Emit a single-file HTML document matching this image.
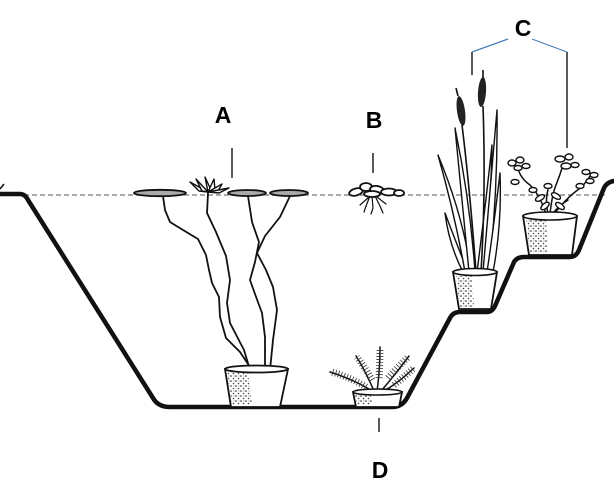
<!DOCTYPE html>
<html>
<head>
<meta charset="utf-8">
<style>
html,body{margin:0;padding:0;background:#fff;}
svg{display:block;}
text{font-family:"Liberation Sans",Arial,sans-serif;font-weight:bold;font-size:23px;fill:#000;}
</style>
</head>
<body>
<svg width="614" height="493" viewBox="0 0 614 493" xmlns="http://www.w3.org/2000/svg">
<defs>
<pattern id="stip" width="5" height="5" patternUnits="userSpaceOnUse">
<circle cx="1" cy="1" r="0.8" fill="#222"/><circle cx="3.5" cy="3.5" r="0.8" fill="#444"/><circle cx="4" cy="1" r="0.5" fill="#666"/>
</pattern>
</defs>
<rect width="614" height="493" fill="#fff"/>

<!-- water line -->
<line x1="24" y1="195" x2="607" y2="195" stroke="#777" stroke-width="1.3" stroke-dasharray="5 3"/>

<!-- pond outline -->
<path d="M0,194 L20,194 Q25,194 28,200 L153,398 Q158,407 170,407 L392,407 Q402,407 407,398 L450,318 Q453,312 460,312 L487,312 Q492,312 495,306 L514,262 Q517,257 524,257 L570,257 Q576,257 579,250 L604,188 Q607,182 614,181" fill="none" stroke="#111" stroke-width="4.5" stroke-linejoin="round" stroke-linecap="round"/>
<path d="M0,189 L4,184" stroke="#111" stroke-width="1.5"/>

<!-- A: stems -->
<g fill="none" stroke="#111" stroke-width="1.8" stroke-linejoin="round" stroke-linecap="round">
<polyline points="163,196 165,210 170,222 183,230 198,239 206,255 209,270 212,283 219,297 220,317 226,338 240,352 252,370"/>
<polyline points="208,193 207,213 216,232 226,256 230,280 227,303 230,323 244,350 250,370"/>
<polyline points="248,196 252,222 259,242 255,262 250,280 255,294 262,313 265,337 265,370"/>
<polyline points="290,196 280,217 265,236 257,253 266,270 273,287 277,310 273,340 270,370"/>
</g>
<!-- lily pads -->
<g fill="#aaa" stroke="#111" stroke-width="1.8">
<ellipse cx="160" cy="193" rx="26" ry="3.2"/>
<ellipse cx="247" cy="193" rx="19" ry="3"/>
<ellipse cx="289" cy="193" rx="19" ry="3"/>
</g>
<!-- flower -->
<g fill="#fff" stroke="#111" stroke-width="1.4" stroke-linejoin="round">
<path d="M208,192 L190,182 L199,191 Z"/>
<path d="M208,192 L196,179 L202,191 Z"/>
<path d="M208,192 L205,177 L211,190 Z"/>
<path d="M208,192 L214,179 L215,190 Z"/>
<path d="M208,192 L222,184 L218,191 Z"/>
<path d="M208,192 L229,188 L219,193 Z"/>
</g>

<!-- big pot -->
<path d="M225,369 L231,407 L280,407 L288,369 Z" fill="#fff" stroke="#111" stroke-width="1.8"/>
<path d="M227,373 L232,405 L252,405 L248,373 Z" fill="url(#stip)"/>
<ellipse cx="256.5" cy="369" rx="31.5" ry="3.5" fill="#fff" stroke="#111" stroke-width="1.8"/>

<!-- B floating plant -->
<g fill="none" stroke="#111" stroke-width="1.2" stroke-linecap="round">
<path d="M370,196 L366,206 L364,212"/>
<path d="M372,196 L373,208 L371,214"/>
<path d="M375,196 L380,206 L383,213"/>
<path d="M368,198 L360,205"/>
<path d="M377,197 L386,204"/>
</g>
<g fill="#fff" stroke="#111" stroke-width="1.8">
<ellipse cx="356" cy="192" rx="7" ry="3.5" transform="rotate(-15 356 192)"/>
<ellipse cx="366" cy="187" rx="6" ry="4"/>
<ellipse cx="377" cy="190" rx="7" ry="4" transform="rotate(10 377 190)"/>
<ellipse cx="389" cy="192" rx="8" ry="3.5"/>
<ellipse cx="399" cy="193" rx="5" ry="3"/>
<ellipse cx="372" cy="194" rx="8" ry="3"/>
</g>

<!-- D pot and plant -->
<g fill="none" stroke="#111" stroke-linecap="round" stroke-width="1.5">
<path d="M372,391 Q355,380 330,372"/>
<path d="M374,391 Q365,370 356,356"/>
<path d="M377,391 Q380,370 380,347"/>
<path d="M381,391 Q395,375 409,356"/>
<path d="M384,391 Q398,383 414,368"/>
</g>
<g fill="none" stroke="#333" stroke-width="7" stroke-dasharray="0.8 2.2" stroke-linecap="butt">
<path d="M366,387 Q352,378 332,372"/>
<path d="M372,380 Q364,366 357,357"/>
<path d="M379,378 Q380,362 380,348"/>
<path d="M388,378 Q398,367 408,357"/>
<path d="M394,385 Q404,377 413,369"/>
</g>
<path d="M353,392 L356,407 L399,407 L402,392 Z" fill="#fff" stroke="#111" stroke-width="1.8"/>
<path d="M355,395 L357,405 L372,405 L371,395 Z" fill="url(#stip)"/>
<ellipse cx="377.5" cy="392" rx="24.5" ry="3" fill="#fff" stroke="#111" stroke-width="1.6"/>

<!-- cattail leaves -->
<g fill="#fff" stroke="#111" stroke-width="1.4" stroke-linejoin="round">
<path d="M463,272 Q449,245 445,213 Q457,245 468,272 Z"/>
<path d="M465,272 Q455,215 438,155 Q463,215 471,272 Z"/>
<path d="M469,272 Q462,200 455,128 Q470,200 475,272 Z"/>
<path d="M477,272 Q485,210 492,145 Q491,210 483,272 Z"/>
<path d="M483,272 Q490,190 497,110 Q498,190 489,272 Z"/>
<path d="M487,272 Q494,225 500,173 Q502,225 493,272 Z"/>
</g>
<g fill="none" stroke="#111" stroke-width="1.6">
<path d="M476,272 Q470,190 462,125"/>
<path d="M481,272 Q486,190 483,106"/>
<path d="M458,96 L456,88"/>
<path d="M483,78 L483,70"/>
</g>
<ellipse cx="461" cy="111" rx="4" ry="15" fill="#222" transform="rotate(-8 461 111)"/>
<ellipse cx="482" cy="92" rx="4" ry="15" fill="#222" transform="rotate(4 482 92)"/>
<!-- cattail pot -->
<path d="M453,272 L459,309 L491,309 L497,272 Z" fill="#fff" stroke="#111" stroke-width="1.8"/>
<path d="M456,276 L460,307 L474,307 L472,276 Z" fill="url(#stip)"/>
<ellipse cx="475" cy="272" rx="22" ry="3.5" fill="#fff" stroke="#111" stroke-width="1.6"/>

<!-- right plant -->
<g fill="none" stroke="#111" stroke-width="1.5" stroke-linecap="round">
<path d="M546,214 Q540,195 530,185 Q520,178 518,168"/>
<path d="M550,214 Q552,195 556,185 Q560,175 563,165"/>
<path d="M554,214 Q565,200 575,192 Q585,185 590,176"/>
<path d="M548,214 Q545,200 548,190"/>
<path d="M552,214 Q560,205 568,200"/>
</g>
<g fill="#fff" stroke="#111" stroke-width="1.4">
<ellipse cx="512" cy="163" rx="4" ry="3"/>
<ellipse cx="520" cy="160" rx="4" ry="3"/>
<ellipse cx="518" cy="168" rx="4" ry="2.5"/>
<ellipse cx="526" cy="166" rx="4" ry="2.5"/>
<ellipse cx="515" cy="182" rx="4" ry="2.5"/>
<ellipse cx="560" cy="159" rx="5" ry="3"/>
<ellipse cx="569" cy="157" rx="4" ry="3"/>
<ellipse cx="566" cy="166" rx="5" ry="3"/>
<ellipse cx="575" cy="165" rx="4" ry="2.5"/>
<ellipse cx="586" cy="172" rx="4" ry="2.5"/>
<ellipse cx="594" cy="175" rx="4" ry="2.5"/>
<ellipse cx="590" cy="181" rx="4" ry="2.5"/>
<ellipse cx="580" cy="186" rx="4" ry="2.5"/>
<ellipse cx="540" cy="198" rx="5" ry="2.5" transform="rotate(-30 540 198)"/>
<ellipse cx="556" cy="196" rx="5" ry="2.5" transform="rotate(30 556 196)"/>
<ellipse cx="545" cy="206" rx="5" ry="2.5" transform="rotate(-40 545 206)"/>
<ellipse cx="560" cy="206" rx="5" ry="2.5" transform="rotate(35 560 206)"/>
<ellipse cx="548" cy="186" rx="4" ry="2.5"/>
<ellipse cx="533" cy="190" rx="4" ry="2.5"/>
</g>
<!-- right pot -->
<path d="M523,216 L529,255 L572,255 L577,216 Z" fill="#fff" stroke="#111" stroke-width="1.8"/>
<path d="M526,220 L530,253 L548,253 L546,220 Z" fill="url(#stip)"/>
<ellipse cx="550" cy="216" rx="27" ry="4" fill="#fff" stroke="#111" stroke-width="1.6"/>

<!-- connectors -->
<g stroke="#222" stroke-width="1.5" fill="none">
<line x1="232" y1="148" x2="232" y2="178"/>
<line x1="373" y1="153" x2="373" y2="173"/>
<line x1="472" y1="52" x2="472" y2="75"/>
<line x1="567" y1="52" x2="567" y2="148"/>
<line x1="379" y1="418" x2="379" y2="432"/>
</g>
<g stroke="#4a7ebb" stroke-width="1.2" fill="none">
<line x1="472" y1="52" x2="508" y2="39"/>
<line x1="532" y1="39" x2="567" y2="52"/>
</g>

<!-- labels -->
<text x="223" y="123" text-anchor="middle">A</text>
<text x="374" y="128" text-anchor="middle">B</text>
<text x="523" y="36" text-anchor="middle">C</text>
<text x="380" y="478" text-anchor="middle">D</text>
</svg>
</body>
</html>
